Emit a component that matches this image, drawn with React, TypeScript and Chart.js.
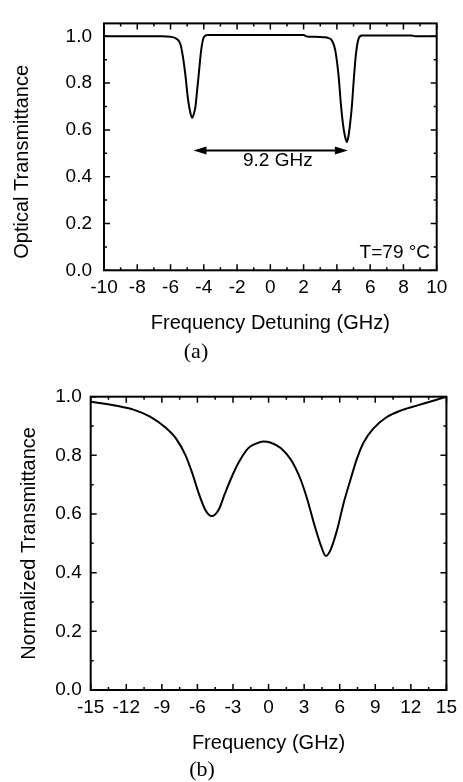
import React, { useEffect, useRef } from 'react';
import { Chart, registerables } from 'chart.js';

Chart.register(...registerables);

const SANS = "'Liberation Sans', Arial, Helvetica, sans-serif";
const SERIF = "'Liberation Serif', 'Times New Roman', serif";

// ---- Panel (a): optical transmittance vs frequency detuning ----
const detuningA = [
  -10, -8, -6.5, -6.0, -5.6, -5.4, -5.25, -5.1, -4.95, -4.8,
  -4.7, -4.6, -4.5, -4.4, -4.3, -4.16, -4.0, -3.8, -2, 0,
  2.0, 2.2, 2.6, 3.2, 3.5, 3.7, 3.9, 4.1, 4.24, 4.36,
  4.48, 4.6, 4.7, 4.8, 4.9, 5.0, 5.14, 5.3, 5.5, 7,
  8.5, 8.7, 10,
];
const transmittanceA = [
  1.0, 1.0, 1.0, 0.998, 0.987, 0.965, 0.91, 0.83, 0.73, 0.67,
  0.652, 0.668, 0.7, 0.77, 0.84, 0.94, 0.996, 1.005, 1.005, 1.005,
  1.005, 0.999, 0.998, 0.996, 0.992, 0.982, 0.941, 0.832, 0.71, 0.628,
  0.575, 0.548, 0.575, 0.63, 0.7, 0.8, 0.92, 0.989, 1.003, 1.003,
  1.003, 1.0, 1.0,
];
const xTicksA = [-10, -8, -6, -4, -2, 0, 2, 4, 6, 8, 10];
const yTicksA = [0, 0.2, 0.4, 0.6, 0.8, 1.0];
const arrowSpanA = [-4.62, 4.66];
const arrowLevelA = 0.512;
const splitLabelA = '9.2 GHz';
const splitLabelPosA = [0.45, 0.468];
const tempLabelA = 'T=79 °C';
const tempLabelPosA = [9.6, 0.076];

// ---- Panel (b): normalized transmittance vs frequency ----
const frequencyB = [
  -15, -12.8, -11.4, -10, -8.7, -7.8, -7.0, -6.45, -5.9, -5.33,
  -4.8, -4.22, -3.67, -3.1, -2.56, -1.73, -1.0, -0.45, 0.2, 1.05,
  1.9, 2.72, 3.28, 3.83, 4.4, 4.83, 5.22, 5.78, 6.33, 6.9,
  7.44, 8.0, 8.83, 9.94, 11.3, 12.7, 14.1, 15,
];
const transmittanceB = [
  0.983, 0.969, 0.956, 0.932, 0.895, 0.857, 0.8, 0.741, 0.672, 0.614,
  0.593, 0.614, 0.671, 0.727, 0.773, 0.824, 0.841, 0.847, 0.843, 0.824,
  0.784, 0.716, 0.648, 0.568, 0.494, 0.457, 0.477, 0.546, 0.637, 0.716,
  0.787, 0.843, 0.891, 0.93, 0.955, 0.972, 0.989, 1.0,
];
const xTicksB = [-15, -12, -9, -6, -3, 0, 3, 6, 9, 12, 15];
const yTicksB = [0, 0.2, 0.4, 0.6, 0.8, 1.0];

type Decor = {
  xMinor: number;
  xMajor: number;
  yMinor: number;
  yMajor: number;
  yTitle: string;
  yTitleX: number;
  yTitleDY: number;
  caption: string;
  captionX: number;
  captionY: number;
  extra?: (chart: any, ctx: CanvasRenderingContext2D) => void;
};

const isMult = (v: number, step: number) => Math.abs(v / step - Math.round(v / step)) < 1e-6;

function makeDecor(s: Decor) {
  return {
    id: 'decor',
    afterDatasetsDraw(chart: any) {
      const { ctx, chartArea: a } = chart;
      const xs = chart.scales.x;
      const ys = chart.scales.y;
      ctx.save();
      ctx.strokeStyle = '#000';
      ctx.lineWidth = 2;
      ctx.strokeRect(a.left, a.top, a.right - a.left, a.bottom - a.top);
      ctx.lineWidth = 1.5;
      ctx.beginPath();
      const nx = Math.round((xs.max - xs.min) / s.xMinor);
      for (let i = 0; i <= nx; i++) {
        const v = xs.min + i * s.xMinor;
        const L = isMult(v, s.xMajor) ? 6 : 3;
        const p = xs.getPixelForValue(v);
        ctx.moveTo(p, a.bottom);
        ctx.lineTo(p, a.bottom - L);
        ctx.moveTo(p, a.top);
        ctx.lineTo(p, a.top + L);
      }
      const ny = Math.floor((ys.max - ys.min) / s.yMinor + 1e-6);
      for (let i = 0; i <= ny; i++) {
        const v = ys.min + i * s.yMinor;
        const L = isMult(v, s.yMajor) ? 6 : 3;
        const p = ys.getPixelForValue(v);
        ctx.moveTo(a.left, p);
        ctx.lineTo(a.left + L, p);
        ctx.moveTo(a.right, p);
        ctx.lineTo(a.right - L, p);
      }
      ctx.stroke();

      ctx.fillStyle = '#000';
      ctx.font = `20px ${SANS}`;
      ctx.save();
      ctx.translate(s.yTitleX, (a.top + a.bottom) / 2 + s.yTitleDY);
      ctx.rotate(-Math.PI / 2);
      ctx.textAlign = 'center';
      ctx.textBaseline = 'middle';
      ctx.fillText(s.yTitle, 0, 0);
      ctx.restore();

      ctx.font = `22px ${SERIF}`;
      ctx.textAlign = 'center';
      ctx.textBaseline = 'middle';
      ctx.fillText(s.caption, s.captionX, s.captionY);

      if (s.extra) s.extra(chart, ctx);
      ctx.restore();
    },
  };
}

function baseConfig(
  xs: number[],
  ys: number[],
  xRange: [number, number],
  yMax: number,
  xTicks: number[],
  yTicks: number[],
  xTitle: string,
  padding: { top: number; left: number; right: number; bottom: number },
  yWidth: number,
  yPad: number,
  decor: any
): any {
  return {
    type: 'line',
    data: {
      datasets: [
        {
          data: xs.map((x, i) => ({ x, y: ys[i] })),
          borderColor: '#000',
          borderWidth: 2,
          pointRadius: 0,
          fill: false,
          cubicInterpolationMode: 'monotone',
        },
      ],
    },
    options: {
      animation: false,
      responsive: false,
      devicePixelRatio: 1,
      layout: { padding },
      plugins: { legend: { display: false }, tooltip: { enabled: false } },
      events: [],
      scales: {
        x: {
          type: 'linear',
          min: xRange[0],
          max: xRange[1],
          afterBuildTicks: (s: any) => {
            s.ticks = xTicks.map((v) => ({ value: v }));
          },
          afterFit: (s: any) => {
            s.height = 66;
          },
          grid: { display: false, drawTicks: false },
          border: { display: false },
          ticks: {
            padding: 6,
            color: '#000',
            font: { size: 19, family: SANS },
            maxRotation: 0,
            autoSkip: false,
            callback: (v: any) => String(v),
          },
          title: {
            display: true,
            text: xTitle,
            color: '#000',
            font: { size: 20, family: SANS },
            padding: { top: 0, bottom: 1 },
          },
        },
        y: {
          type: 'linear',
          min: 0,
          max: yMax,
          afterBuildTicks: (s: any) => {
            s.ticks = yTicks.map((v) => ({ value: v }));
          },
          afterFit: (s: any) => {
            s.width = yWidth;
          },
          grid: { display: false, drawTicks: false },
          border: { display: false },
          ticks: {
            padding: yPad,
            color: '#000',
            font: { size: 19, family: SANS },
            autoSkip: false,
            callback: (v: any) => Number(v).toFixed(1),
          },
        },
      },
    },
    plugins: [decor],
  };
}

export default function App() {
  const refA = useRef<HTMLCanvasElement>(null);
  const refB = useRef<HTMLCanvasElement>(null);

  useEffect(() => {
    const decorA = makeDecor({
      xMinor: 1,
      xMajor: 2,
      yMinor: 0.1,
      yMajor: 0.2,
      yTitle: 'Optical Transmittance',
      yTitleX: 22.5,
      yTitleDY: 15,
      caption: '(a)',
      captionX: 196,
      captionY: 352,
      extra: (chart, ctx) => {
        const xs = chart.scales.x;
        const ys = chart.scales.y;
        const p1 = xs.getPixelForValue(arrowSpanA[0]);
        const p2 = xs.getPixelForValue(arrowSpanA[1]);
        const py = ys.getPixelForValue(arrowLevelA);
        const head = 13;
        const hh = 4;
        ctx.strokeStyle = '#000';
        ctx.lineWidth = 2;
        ctx.beginPath();
        ctx.moveTo(p1 + head - 2, py);
        ctx.lineTo(p2 - head + 2, py);
        ctx.stroke();
        ctx.beginPath();
        ctx.moveTo(p1, py);
        ctx.lineTo(p1 + head, py - hh);
        ctx.lineTo(p1 + head, py + hh);
        ctx.closePath();
        ctx.fill();
        ctx.beginPath();
        ctx.moveTo(p2, py);
        ctx.lineTo(p2 - head, py - hh);
        ctx.lineTo(p2 - head, py + hh);
        ctx.closePath();
        ctx.fill();
        ctx.font = `19px ${SANS}`;
        ctx.textBaseline = 'middle';
        ctx.textAlign = 'center';
        ctx.fillText(
          splitLabelA,
          xs.getPixelForValue(splitLabelPosA[0]),
          ys.getPixelForValue(splitLabelPosA[1])
        );
        ctx.textAlign = 'right';
        ctx.fillText(
          tempLabelA,
          xs.getPixelForValue(tempLabelPosA[0]),
          ys.getPixelForValue(tempLabelPosA[1])
        );
      },
    });
    const decorB = makeDecor({
      xMinor: 1.5,
      xMajor: 3,
      yMinor: 0.1,
      yMajor: 0.2,
      yTitle: 'Normalized Transmittance',
      yTitleX: 29,
      yTitleDY: 0,
      caption: '(b)',
      captionX: 202,
      captionY: 400,
    });

    const chartA = new Chart(
      refA.current as HTMLCanvasElement,
      baseConfig(
        detuningA,
        transmittanceA,
        [-10, 10],
        1.055,
        xTicksA,
        yTicksA,
        'Frequency Detuning (GHz)',
        { top: 12.5, left: 0, right: 26.3, bottom: 33.7 },
        104,
        12,
        decorA
      )
    );
    const chartB = new Chart(
      refB.current as HTMLCanvasElement,
      baseConfig(
        frequencyB,
        transmittanceB,
        [-15, 15],
        1.0,
        xTicksB,
        yTicksB,
        'Frequency (GHz)',
        { top: 26.7, left: 0, right: 12.3, bottom: 26 },
        90.7,
        9,
        decorB
      )
    );
    return () => {
      chartA.destroy();
      chartB.destroy();
    };
  }, []);

  return (
    <div
      style={{
        position: 'absolute',
        left: 0,
        top: 0,
        width: 463,
        height: 782,
        background: '#fff',
        overflow: 'hidden',
      }}
    >
      <canvas ref={refA} width={463} height={370} style={{ position: 'absolute', left: 0, top: 0 }} />
      <canvas ref={refB} width={463} height={412} style={{ position: 'absolute', left: 0, top: 370 }} />
    </div>
  );
}
